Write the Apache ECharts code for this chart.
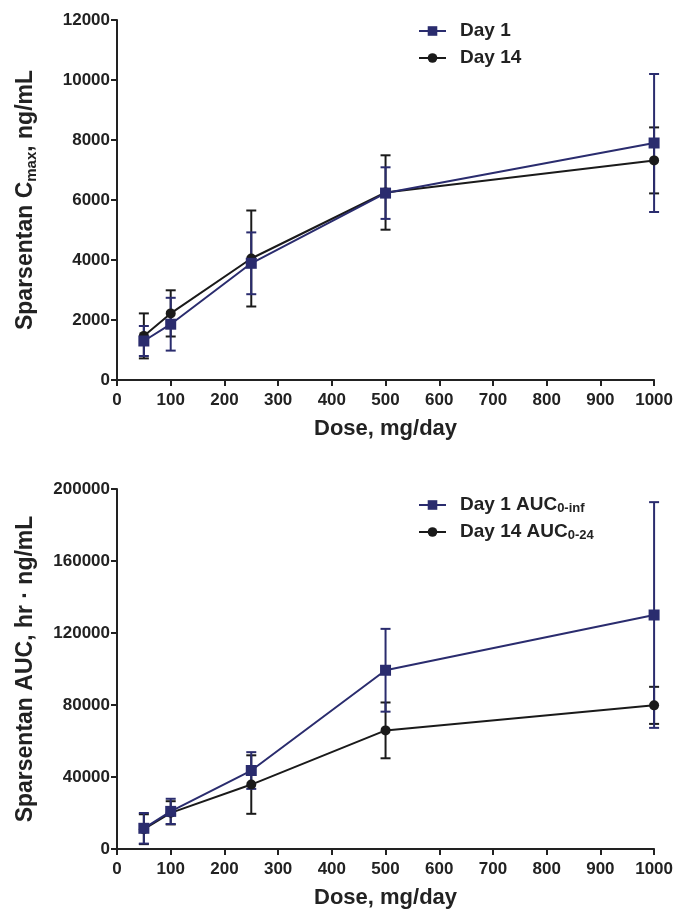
<!DOCTYPE html>
<html>
<head>
<meta charset="utf-8">
<script src="https://cdn.jsdelivr.net/npm/echarts@6/dist/echarts.min.js"></script>
<style>
html,body{margin:0;padding:0;background:#fff;}
#chart{width:676px;height:913px;}
</style>
</head>
<body>
<div id="chart"></div>
<script>
// ---- data ----
var doses = [50, 100, 250, 500, 1000];

var cmaxDay1 = [1300, 1860, 3890, 6230, 7900];
var cmaxDay1SD = [500, 880, 1030, 860, 2300];
var cmaxDay14 = [1470, 2220, 4050, 6250, 7320];
var cmaxDay14SD = [750, 770, 1600, 1240, 1100];

var aucDay1 = [11500, 20900, 43600, 99300, 130000];
var aucDay1SD = [8500, 7000, 10200, 23000, 62700];
var aucDay14 = [11000, 20100, 35800, 65900, 79800];
var aucDay14SD = [8300, 6450, 16250, 15500, 10300];

var xTickMin = 0, xTickMax = 1000, xTickStep = 100;
var cmaxTickMin = 0, cmaxTickMax = 12000, cmaxTickStep = 2000;
var aucTickMin = 0, aucTickMax = 200000, aucTickStep = 40000;

// ---- styles ----
var NAVY = '#2a2c6e';
var BLACK = '#1a1a1a';
var TXT = '#222';
var FONT = '"Liberation Sans", Arial, Helvetica, sans-serif';

function pts(xs, ys) { return xs.map(function (x, i) { return [x, ys[i]]; }); }
function errs(xs, ys, sd) { return xs.map(function (x, i) { return [x, ys[i] - sd[i], ys[i] + sd[i]]; }); }
function plain(v) { return String(v); }

function errRender(color) {
  return function (params, api) {
    var x = api.value(0), lo = api.value(1), hi = api.value(2);
    var a = api.coord([x, lo]), b = api.coord([x, hi]);
    var w = 5;
    var st = { stroke: color, lineWidth: 2 };
    return {
      type: 'group',
      children: [
        { type: 'line', shape: { x1: a[0], y1: a[1], x2: b[0], y2: b[1] }, style: st },
        { type: 'line', shape: { x1: a[0] - w, y1: a[1], x2: a[0] + w, y2: a[1] }, style: st },
        { type: 'line', shape: { x1: b[0] - w, y1: b[1], x2: b[0] + w, y2: b[1] }, style: st }
      ]
    };
  };
}

function xAxis(gi) {
  return {
    type: 'value', gridIndex: gi, min: xTickMin, max: xTickMax, interval: xTickStep,
    name: 'Dose, mg/day', nameLocation: 'middle', nameGap: 38,
    nameTextStyle: { fontFamily: FONT, fontWeight: 'bold', fontSize: 22, color: TXT },
    axisLine: { show: true, lineStyle: { color: TXT, width: 2 } },
    axisTick: { show: true, inside: false, length: 6, lineStyle: { color: TXT, width: 2 } },
    axisLabel: { fontFamily: FONT, fontWeight: 'bold', fontSize: 17, color: TXT, margin: 12, formatter: plain },
    splitLine: { show: false }
  };
}
function yAxis(gi, mn, mx, step, name, rich) {
  return {
    type: 'value', gridIndex: gi, min: mn, max: mx, interval: step,
    name: name, nameLocation: 'middle', nameGap: 78, nameRotate: 90,
    nameTextStyle: { fontFamily: FONT, fontWeight: 'bold', fontSize: 23, color: TXT, lineHeight: 27, rich: rich },
    axisLine: { show: true, lineStyle: { color: TXT, width: 2 } },
    axisTick: { show: true, inside: false, length: 6, lineStyle: { color: TXT, width: 2 } },
    axisLabel: { fontFamily: FONT, fontWeight: 'bold', fontSize: 17, color: TXT, margin: 7, formatter: plain },
    splitLine: { show: false }
  };
}

var subStyle = { fontFamily: FONT, fontWeight: 'bold', fontSize: 15, color: TXT, verticalAlign: 'bottom', lineHeight: 15 };
var legSub = { fontFamily: FONT, fontWeight: 'bold', fontSize: 13, color: TXT, verticalAlign: 'bottom', lineHeight: 13 };

var legendNames = {
  'Day 1': 'Day 1',
  'Day 14': 'Day 14',
  'Day 1 AUC': 'Day 1 AUC{sub|0-inf}',
  'Day 14 AUC': 'Day 14 AUC{sub|0-24}'
};

function legend(top, names) {
  return {
    orient: 'vertical', left: 418, top: top, padding: 0, itemWidth: 27, itemHeight: 12, itemGap: 7,
    selectedMode: false, data: names,
    formatter: function (n) { return legendNames[n]; },
    textStyle: { fontFamily: FONT, fontWeight: 'bold', fontSize: 19, color: TXT, padding: [0, 0, 0, 9], lineHeight: 20, rich: { sub: legSub } }
  };
}

var option = {
  backgroundColor: '#fff',
  animation: false,
  grid: [
    { left: 117, right: 20, top: 20, height: 360, containLabel: false },
    { left: 117, right: 20, top: 489, height: 360, containLabel: false }
  ],
  legend: [legend(21, ['Day 1', 'Day 14']), legend(495, ['Day 1 AUC', 'Day 14 AUC'])],
  xAxis: [xAxis(0), xAxis(1)],
  yAxis: [
    yAxis(0, cmaxTickMin, cmaxTickMax, cmaxTickStep, 'Sparsentan C{sub|max}, ng/mL', { sub: subStyle }),
    yAxis(1, aucTickMin, aucTickMax, aucTickStep, 'Sparsentan AUC, hr · ng/mL', {})
  ],
  series: [
    { name: 'e14a', type: 'custom', xAxisIndex: 0, yAxisIndex: 0, renderItem: errRender(BLACK), encode: { x: 0, y: [1, 2] }, data: errs(doses, cmaxDay14, cmaxDay14SD), z: 1 },
    { name: 'e1a', type: 'custom', xAxisIndex: 0, yAxisIndex: 0, renderItem: errRender(NAVY), encode: { x: 0, y: [1, 2] }, data: errs(doses, cmaxDay1, cmaxDay1SD), z: 1 },
    { name: 'Day 14', type: 'line', xAxisIndex: 0, yAxisIndex: 0, data: pts(doses, cmaxDay14), symbol: 'circle', symbolSize: 10, lineStyle: { color: BLACK, width: 2 }, itemStyle: { color: BLACK }, z: 3 },
    { name: 'Day 1', type: 'line', xAxisIndex: 0, yAxisIndex: 0, data: pts(doses, cmaxDay1), symbol: 'rect', symbolSize: 11, lineStyle: { color: NAVY, width: 2 }, itemStyle: { color: NAVY }, z: 4 },

    { name: 'e14b', type: 'custom', xAxisIndex: 1, yAxisIndex: 1, renderItem: errRender(BLACK), encode: { x: 0, y: [1, 2] }, data: errs(doses, aucDay14, aucDay14SD), z: 1 },
    { name: 'e1b', type: 'custom', xAxisIndex: 1, yAxisIndex: 1, renderItem: errRender(NAVY), encode: { x: 0, y: [1, 2] }, data: errs(doses, aucDay1, aucDay1SD), z: 1 },
    { name: 'Day 14 AUC', type: 'line', xAxisIndex: 1, yAxisIndex: 1, data: pts(doses, aucDay14), symbol: 'circle', symbolSize: 10, lineStyle: { color: BLACK, width: 2 }, itemStyle: { color: BLACK }, z: 3 },
    { name: 'Day 1 AUC', type: 'line', xAxisIndex: 1, yAxisIndex: 1, data: pts(doses, aucDay1), symbol: 'rect', symbolSize: 11, lineStyle: { color: NAVY, width: 2 }, itemStyle: { color: NAVY }, z: 4 }
  ]
};

var chart = echarts.init(document.getElementById('chart'), null, { renderer: 'canvas' });
chart.setOption(option);
</script>
</body>
</html>
